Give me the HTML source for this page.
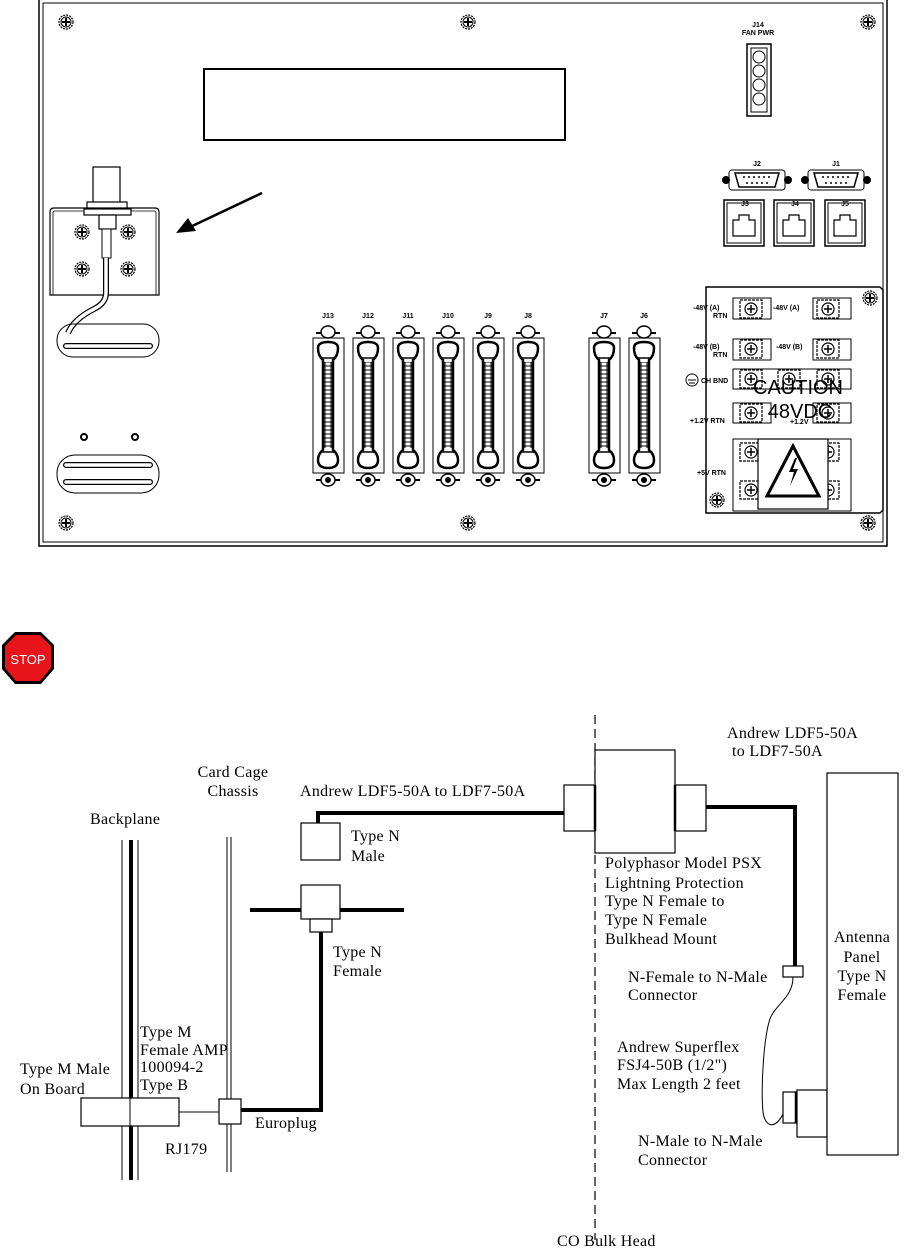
<!DOCTYPE html>
<html><head><meta charset="utf-8"><style>
html,body{margin:0;padding:0;background:#fff}
svg{display:block}
text{font-family:"Liberation Serif",serif;font-size:16px;letter-spacing:0.3px;fill:#000}
.s{font-family:"Liberation Sans",sans-serif;font-size:7px;font-weight:bold;letter-spacing:0}
</style></head><body>
<svg width="906" height="1253" viewBox="0 0 906 1253" xmlns="http://www.w3.org/2000/svg">
<defs>
<pattern id="tk" width="20" height="4" patternUnits="userSpaceOnUse">
<path d="M0 2h4M16 2h4" stroke="#000" stroke-width="1"/>
</pattern>
<g id="scr"><circle r="7" fill="#fff" stroke="#000" stroke-width="1.2" stroke-dasharray="2 1"/><circle r="5" fill="none" stroke="#000" stroke-width="1"/><path d="M-4 0h8M0 -4v8" stroke="#000" stroke-width="2"/></g>
<g id="tscr"><rect x="-11" y="-9" width="22" height="18" fill="#fff" stroke="#000" stroke-width="1.2" stroke-dasharray="3 1"/><circle r="6" fill="none" stroke="#000" stroke-width="1.2"/><path d="M-4 0h8M0 -4v8" stroke="#000" stroke-width="1.5"/></g>
<g id="conn">
<rect x="-15" y="338" width="31" height="135" fill="none" stroke="#000" stroke-width="1"/>
<ellipse cx="0" cy="332" rx="7" ry="6" fill="#fff" stroke="#000" stroke-width="1.5"/>
<path d="M-12 333h5M7 333h5" stroke="#000" stroke-width="2"/>
<ellipse cx="0" cy="480" rx="7" ry="6" fill="#fff" stroke="#000" stroke-width="1.5"/>
<circle cx="0" cy="480" r="3" fill="#000"/>
<path d="M-12 480h5M7 480h5" stroke="#000" stroke-width="2"/>
<path d="M-10 348q0-6 10-6q10 0 10 6q0 8-5 12v90q5 4 5 10q0 8-10 8q-10 0-10-8q0-6 5-10v-90q-5-4-5-12z" fill="none" stroke="#000" stroke-width="2.5"/>
<path d="M-8 358h16M-8 452h16" stroke="#000" stroke-width="1.5"/>
<rect x="-10" y="362" width="20" height="86" fill="url(#tk)"/>
<path d="M-3 362v86M3 362v86" stroke="#000" stroke-width="1"/>
</g>
<g id="rj"><rect x="0" y="0" width="40" height="46" fill="none" stroke="#000" stroke-width="1.5"/><rect x="3" y="3" width="34" height="40" fill="none" stroke="#000" stroke-width="1"/><path d="M9 36v-16h6v-5h10v5h6v16z" fill="none" stroke="#000" stroke-width="1.2"/></g>
<g id="db"><path d="M-22 -7h44l-4 14h-36z" fill="none" stroke="#000" stroke-width="1.5"/><rect x="-28" y="-10" width="56" height="20" rx="3" fill="none" stroke="#000" stroke-width="1"/><circle cx="-31" cy="0" r="4" fill="#000"/><circle cx="31" cy="0" r="4" fill="#000"/><path d="M-14 -3h28M-11 3h22" stroke="#000" stroke-width="1.5" stroke-dasharray="2 3"/></g>
</defs>

<!-- top panel -->
<rect x="39" y="-2" width="848" height="548" fill="none" stroke="#000" stroke-width="1.5"/>
<rect x="43" y="3" width="840" height="539" fill="none" stroke="#000" stroke-width="1"/>
<use href="#scr" x="66" y="22"/><use href="#scr" x="468" y="22"/><use href="#scr" x="868" y="22"/>
<use href="#scr" x="66" y="523"/><use href="#scr" x="468" y="523"/><use href="#scr" x="868" y="523"/>
<rect x="204" y="69" width="361" height="71" fill="none" stroke="#000" stroke-width="2"/>

<!-- coax bracket -->
<rect x="93" y="167" width="27" height="40" fill="#fff" stroke="#000" stroke-width="1.2"/>
<rect x="87" y="202" width="40" height="7" fill="#fff" stroke="#000" stroke-width="1.2"/>
<path d="M50 295V212q0-4 4-4h101q4 0 4 4v83z" fill="none" stroke="#000" stroke-width="1.2"/>
<path d="M53 295V213q0-2 2-2h99q2 0 2 2v82" fill="none" stroke="#000" stroke-width="0.8"/>
<rect x="84" y="209" width="47" height="6" fill="#fff" stroke="#000" stroke-width="1.2"/>
<rect x="99" y="215" width="17" height="14" fill="#fff" stroke="#000" stroke-width="1.2"/>
<rect x="102" y="229" width="9" height="29" fill="#fff" stroke="#000" stroke-width="1"/>
<use href="#scr" x="82" y="232"/><use href="#scr" x="128" y="232"/><use href="#scr" x="82" y="269"/><use href="#scr" x="128" y="269"/>
<path d="M106 258v35q0 10-12 16q-20 10-26 24" fill="none" stroke="#000" stroke-width="6"/>
<path d="M106 258v35q0 10-12 16q-20 10-26 24" fill="none" stroke="#fff" stroke-width="3.5"/>
<rect x="57" y="324" width="102" height="33" rx="16" fill="none" stroke="#000" stroke-width="1"/>
<path d="M66 346h84" stroke="#000" stroke-width="6" stroke-linecap="round"/><path d="M66 346h84" stroke="#fff" stroke-width="3.5" stroke-linecap="round"/>
<circle cx="84" cy="437" r="3" fill="none" stroke="#000" stroke-width="2"/><circle cx="135" cy="437" r="3" fill="none" stroke="#000" stroke-width="2"/>
<rect x="57" y="455" width="102" height="38" rx="18" fill="none" stroke="#000" stroke-width="1"/>
<path d="M66 465h84M66 482h84" stroke="#000" stroke-width="6" stroke-linecap="round"/><path d="M66 465h84M66 482h84" stroke="#fff" stroke-width="3.5" stroke-linecap="round"/>
<path d="M262 193L188 228" stroke="#000" stroke-width="2.5"/>
<path d="M176 233l12-15l8 13z" fill="#000"/>

<!-- J14 -->
<text class="s" x="758" y="27" text-anchor="middle">J14</text>
<text class="s" x="758" y="35" text-anchor="middle">FAN PWR</text>
<rect x="747" y="44" width="24" height="72" fill="none" stroke="#000" stroke-width="1.5"/>
<rect x="751" y="48" width="16" height="64" fill="none" stroke="#000" stroke-width="1"/>
<circle cx="759" cy="57" r="6" fill="none" stroke="#000"/><circle cx="759" cy="71" r="6" fill="none" stroke="#000"/><circle cx="759" cy="85" r="6" fill="none" stroke="#000"/><circle cx="759" cy="99" r="6" fill="none" stroke="#000"/>

<text class="s" x="757" y="166" text-anchor="middle">J2</text><text class="s" x="836" y="166" text-anchor="middle">J1</text>
<use href="#db" x="757" y="180"/><use href="#db" x="836" y="180"/>
<text class="s" x="745" y="206" text-anchor="middle">J3</text><text class="s" x="795" y="206" text-anchor="middle">J4</text><text class="s" x="845" y="206" text-anchor="middle">J5</text>
<use href="#rj" x="724" y="200"/><use href="#rj" x="774" y="200"/><use href="#rj" x="825" y="200"/>

<!-- connectors -->
<g text-anchor="middle">
<text class="s" x="328" y="318">J13</text><text class="s" x="368" y="318">J12</text><text class="s" x="408" y="318">J11</text><text class="s" x="448" y="318">J10</text><text class="s" x="488" y="318">J9</text><text class="s" x="528" y="318">J8</text><text class="s" x="604" y="318">J7</text><text class="s" x="644" y="318">J6</text>
</g>
<use href="#conn" x="328"/><use href="#conn" x="368"/><use href="#conn" x="408"/><use href="#conn" x="448"/><use href="#conn" x="488"/><use href="#conn" x="528"/><use href="#conn" x="604"/><use href="#conn" x="644"/>

<!-- power block -->
<path d="M706 287h174l3 3v220l-3 3h-174z" fill="none" stroke="#000" stroke-width="1.5"/>
<use href="#scr" x="870" y="298"/><use href="#scr" x="717" y="500"/><use href="#scr" x="868" y="523"/>
<rect x="733" y="298" width="38" height="21" fill="none" stroke="#000"/><rect x="813" y="298" width="38" height="21" fill="none" stroke="#000"/>
<rect x="733" y="339" width="38" height="21" fill="none" stroke="#000"/><rect x="813" y="339" width="38" height="21" fill="none" stroke="#000"/>
<rect x="733" y="369" width="118" height="20" fill="none" stroke="#000"/>
<rect x="733" y="403" width="38" height="20" fill="none" stroke="#000"/><rect x="813" y="403" width="38" height="20" fill="none" stroke="#000"/>
<rect x="733" y="439" width="118" height="72" fill="none" stroke="#000"/>
<use href="#tscr" x="751" y="309"/><use href="#tscr" x="828" y="309"/>
<use href="#tscr" x="751" y="349"/><use href="#tscr" x="828" y="349"/>
<use href="#tscr" x="751" y="379"/><use href="#tscr" x="789" y="379"/><use href="#tscr" x="828" y="379"/>
<use href="#tscr" x="751" y="413"/><use href="#tscr" x="828" y="413"/>
<use href="#tscr" x="751" y="452"/><use href="#tscr" x="751" y="490"/><use href="#tscr" x="828" y="452"/><use href="#tscr" x="828" y="490"/>
<text class="s" x="693" y="310">-48V (A)</text><text class="s" x="713" y="318">RTN</text><text class="s" x="773" y="310">-48V (A)</text>
<text class="s" x="693" y="349">-48V (B)</text><text class="s" x="713" y="357">RTN</text><text class="s" x="776" y="349">-48V (B)</text>
<text class="s" x="701" y="383">CH  BND</text>
<text class="s" x="690" y="423">+1.2V RTN</text><text class="s" x="790" y="424">+1.2V</text>
<text class="s" x="697" y="475">+5V RTN</text>
<circle cx="692" cy="380" r="6" fill="none" stroke="#000"/><path d="M688 380h8M689 383h6" stroke="#000"/>
<text x="798" y="394" text-anchor="middle" style="font-family:'Liberation Sans',sans-serif;font-size:20px;letter-spacing:0">CAUTION</text>
<text x="800" y="418" text-anchor="middle" style="font-family:'Liberation Sans',sans-serif;font-size:20px;letter-spacing:0">48VDC</text>
<rect x="758" y="439" width="70" height="70" fill="#fff" stroke="#000" stroke-width="1.2"/>
<path d="M793 446l-26 50h52z" fill="none" stroke="#000" stroke-width="3"/>
<path d="M795 458l-6 14h5l-4 14l8-17h-5l4-11z" fill="#000"/>

<!-- stop sign -->
<polygon points="15,632 41,632 54,645 54,669 41,684 15,684 2,669 2,645" fill="#000"/>
<polygon points="16,635 40,635 51,646 51,668 40,681 16,681 5,668 5,646" fill="#e8141b"/>
<text x="28" y="664" text-anchor="middle" style="font-family:'Liberation Sans',sans-serif;font-size:13px;fill:#fff;letter-spacing:0">STOP</text>

<!-- bottom diagram -->
<text x="233" y="777" text-anchor="middle">Card Cage</text>
<text x="233" y="796" text-anchor="middle">Chassis</text>
<text x="90" y="824">Backplane</text>
<text x="300" y="796">Andrew LDF5-50A to LDF7-50A</text>
<path d="M122 840v340M138 840v340" stroke="#000" stroke-width="1"/>
<path d="M131 840v340" stroke="#000" stroke-width="4"/>
<path d="M227 837v335M231 837v335" stroke="#000" stroke-width="1"/>
<path d="M318 823v-10h252" fill="none" stroke="#000" stroke-width="4"/>
<rect x="301" y="823" width="39" height="37" fill="#fff" stroke="#000" stroke-width="1.2"/>
<text x="351" y="841">Type N</text><text x="351" y="861">Male</text>
<path d="M250 910h154" stroke="#000" stroke-width="4"/>
<rect x="301" y="885" width="39" height="34" fill="#fff" stroke="#000" stroke-width="1.2"/>
<rect x="310" y="919" width="22" height="13" fill="#fff" stroke="#000" stroke-width="1.2"/>
<path d="M321 932v178h-80" fill="none" stroke="#000" stroke-width="4"/>
<text x="333" y="957">Type N</text><text x="333" y="976">Female</text>
<text x="140" y="1037">Type M</text><text x="140" y="1055">Female AMP</text><text x="140" y="1072">100094-2</text><text x="140" y="1090">Type B</text>
<text x="20" y="1074">Type M Male</text><text x="20" y="1094">On Board</text>
<rect x="81" y="1098" width="98" height="28" fill="#fff" stroke="#000" stroke-width="1.2"/>
<path d="M130 1098v28" stroke="#000"/>
<path d="M179 1112h40" stroke="#000"/>
<rect x="219" y="1099" width="22" height="25" fill="#fff" stroke="#000" stroke-width="1.2"/>
<text x="255" y="1128">Europlug</text>
<text x="165" y="1154">RJ179</text>

<path d="M595 715v525" stroke="#000" stroke-width="1.2" stroke-dasharray="9 5"/>
<rect x="595" y="750" width="80" height="103" fill="#fff" stroke="#000" stroke-width="1.2"/>
<rect x="564" y="785" width="31" height="46" fill="#fff" stroke="#000" stroke-width="1.2"/>
<rect x="675" y="785" width="31" height="46" fill="#fff" stroke="#000" stroke-width="1.2"/>
<path d="M595 785v46M675 785v46" stroke="#000" stroke-width="2.5"/>
<path d="M706 807h89v159" fill="none" stroke="#000" stroke-width="4"/>
<rect x="783" y="966" width="20" height="11" fill="#fff" stroke="#000" stroke-width="1.2"/>
<path d="M793 977c0 22-20 28-24 45c-6 22 -8 70 -6 90c2 15 12 18 20 2" fill="none" stroke="#000" stroke-width="1"/>
<rect x="783" y="1092" width="13" height="31" fill="#fff" stroke="#000" stroke-width="1.2"/>
<path d="M796 1092v31" stroke="#000" stroke-width="2.5"/>
<rect x="797" y="1090" width="30" height="47" fill="#fff" stroke="#000" stroke-width="1.2"/>
<rect x="827" y="773" width="71" height="382" fill="#fff" stroke="#000" stroke-width="1.2"/>
<text x="727" y="738">Andrew LDF5-50A</text><text x="732" y="756">to LDF7-50A</text>
<text x="605" y="868">Polyphasor Model PSX</text><text x="605" y="888">Lightning Protection</text><text x="605" y="906">Type N Female to</text><text x="605" y="925">Type N Female</text><text x="605" y="944">Bulkhead Mount</text>
<text x="628" y="982">N-Female to N-Male</text><text x="628" y="1000">Connector</text>
<text x="617" y="1052">Andrew Superflex</text><text x="617" y="1070">FSJ4-50B (1/2")</text><text x="617" y="1089">Max Length 2 feet</text>
<text x="638" y="1146">N-Male to N-Male</text><text x="638" y="1165">Connector</text>
<text x="862" y="942" text-anchor="middle">Antenna</text><text x="862" y="962" text-anchor="middle">Panel</text><text x="862" y="981" text-anchor="middle">Type N</text><text x="862" y="1000" text-anchor="middle">Female</text>
<text x="557" y="1246">CO Bulk Head</text>
</svg>
</body></html>
